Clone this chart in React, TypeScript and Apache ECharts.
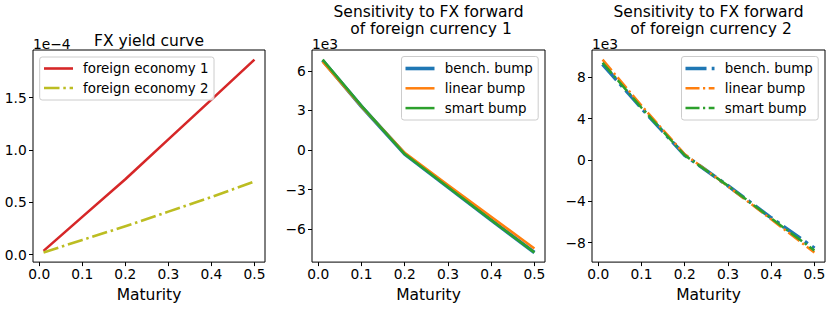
import React, { useEffect, useRef } from "react";
import * as echarts from "echarts";

// Maturities (years)
const maturities = [0.01, 0.1, 0.2, 0.3, 0.4, 0.5];

// Panel 1: FX yield curve, values in units of 1e-4
const foreignEconomy1 = [0.035, 0.36, 0.72, 1.1, 1.48, 1.862];
const foreignEconomy2 = [0.02, 0.14, 0.27, 0.41, 0.55, 0.697];

// Panel 2: sensitivity, currency 1, values in units of 1e3
const bench1 = [6.8, 3.3, -0.3, -2.8, -5.3, -7.75];
const linear1 = [6.7, 3.3, -0.2, -2.65, -5.05, -7.45];
const smart1 = [6.85, 3.35, -0.3, -2.8, -5.3, -7.75];

// Panel 3: sensitivity, currency 2, values in units of 1e3
const bench2 = [9.25, 5.0, 0.45, -2.5, -5.6, -8.55];
const linear2 = [9.7, 5.25, 0.55, -2.55, -5.75, -8.95];
const smart2 = [9.4, 5.05, 0.45, -2.5, -5.65, -8.75];

// Tick values
const xTicks = [0, 0.1, 0.2, 0.3, 0.4, 0.5];
const yTicks1 = [0, 0.5, 1.0, 1.5];
const yTicks2 = [-6, -3, 0, 3, 6];
const yTicks3 = [-8, -4, 0, 4, 8];

const titles = [
  ["FX yield curve"],
  ["Sensitivity to FX forward", "of foreign currency 1"],
  ["Sensitivity to FX forward", "of foreign currency 2"],
];
const offsetTexts = ["1e\u22124", "1e3", "1e3"];
const legendNames1 = ["foreign economy 1", "foreign economy 2"];
const legendNames2 = ["bench. bump", "linear bump", "smart bump"];

const FONT = "DejaVu Sans";
const C_BLUE = "#1f77b4";
const C_ORANGE = "#ff7f0e";
const C_GREEN = "#2ca02c";
const C_RED = "#d62728";
const C_OLIVE = "#bcbd22";

const pair = (ys: number[]) => maturities.map((x, i) => [x, ys[i]]);

function padExtent(arrs: number[][]) {
  const all = arrs.flat();
  const mn = Math.min(...all);
  const mx = Math.max(...all);
  const p = (mx - mn) * 0.05;
  return [mn - p, mx + p];
}

const minus = (s: string) => s.replace("-", "\u2212");

export default function App() {
  const ref = useRef<HTMLDivElement>(null);
  useEffect(() => {
    if (!ref.current) return;
    const chart = echarts.init(ref.current, undefined, { renderer: "svg" });

    const grids = [
      { left: 33, top: 50, width: 232, height: 217 },
      { left: 312, top: 50, width: 233, height: 217 },
      { left: 592, top: 50, width: 233, height: 217 },
    ];
    const xExt = padExtent([maturities]);
    const yExts = [
      padExtent([foreignEconomy1, foreignEconomy2]),
      padExtent([bench1, linear1, smart1]),
      padExtent([bench2, linear2, smart2]),
    ];
    const yTicksAll = [yTicks1, yTicks2, yTicks3];
    const yFmt = [
      (v: number) => v.toFixed(1),
      (v: number) => minus(String(Math.round(v))),
      (v: number) => minus(String(Math.round(v))),
    ];

    const xAxis = grids.map((_, i) => ({
      type: "value",
      gridIndex: i,
      position: "bottom",
      min: xExt[0],
      max: xExt[1],
      splitLine: { show: false },
      axisLine: { show: false, onZero: false },
      axisTick: {
        show: true,
        length: 4,
        lineStyle: { color: "#000", width: 1 },
        customValues: xTicks,
      },
      axisLabel: {
        customValues: xTicks,
        formatter: (v: number) => v.toFixed(1),
        fontFamily: FONT,
        fontSize: 13.8,
        color: "#000",
        margin: 5,
        lineHeight: 14,
      },
      name: "Maturity",
      nameLocation: "middle",
      nameGap: 28.5,
      nameTextStyle: {
        fontFamily: FONT,
        fontSize: 15.5,
        color: "#000",
        verticalAlign: "middle",
        lineHeight: 18,
      },
    }));

    const yAxis = grids.map((_, i) => ({
      type: "value",
      gridIndex: i,
      position: "left",
      min: yExts[i][0],
      max: yExts[i][1],
      splitLine: { show: false },
      axisLine: { show: false, onZero: false },
      axisTick: {
        show: true,
        length: 4,
        lineStyle: { color: "#000", width: 1 },
        customValues: yTicksAll[i],
      },
      axisLabel: {
        customValues: yTicksAll[i],
        formatter: yFmt[i],
        fontFamily: FONT,
        fontSize: 13.8,
        color: "#000",
        margin: 6.2,
      },
    }));

    const dashThin = [14, 3.5, 2.2, 3.5];
    const dashThick = [21, 5.2, 3.5, 5.2];
    const dashOlive = [15.5, 3.8, 2.5, 3.8];

    const mk = (
      name: string,
      data: number[],
      idx: number,
      color: string,
      width: number,
      type: any
    ) => ({
      type: "line",
      name,
      xAxisIndex: idx,
      yAxisIndex: idx,
      data: pair(data),
      showSymbol: false,
      symbol: "none",
      lineStyle: { color, width, type, cap: "butt", join: "round" },
      itemStyle: { color },
      emphasis: { disabled: true },
      silent: true,
      z: 2,
    });

    const series = [
      mk(legendNames1[0], foreignEconomy1, 0, C_RED, 2.6, "solid"),
      mk(legendNames1[1], foreignEconomy2, 0, C_OLIVE, 2.6, dashOlive),
      mk(legendNames2[0], bench1, 1, C_BLUE, 3.6, "solid"),
      mk(legendNames2[1], linear1, 1, C_ORANGE, 2.5, "solid"),
      mk(legendNames2[2], smart1, 1, C_GREEN, 2.5, "solid"),
      mk(legendNames2[0], bench2, 2, C_BLUE, 3.6, dashThick),
      mk(legendNames2[1], linear2, 2, C_ORANGE, 2.5, dashThin),
      mk(legendNames2[2], smart2, 2, C_GREEN, 2.5, dashThin),
    ];

    // graphic: titles, offset texts, legends
    const graphic: any[] = [];
    grids.forEach((g, i) => {
      const cx = g.left + g.width / 2;
      const t = titles[i];
      const titleStyle = (text: string) => ({
        text,
        font: `15.5px "${FONT}"`,
        fill: "#000",
        textAlign: "center",
        textVerticalAlign: "middle",
      });
      if (t.length === 1) {
        graphic.push({ type: "text", x: cx, y: 41.3, style: titleStyle(t[0]) });
      } else {
        graphic.push({ type: "text", x: cx, y: 11.8, style: titleStyle(t[0]) });
        graphic.push({ type: "text", x: cx + 2.5, y: 29.2, style: titleStyle(t[1]) });
      }
      graphic.push({
        type: "text",
        x: g.left,
        y: 44,
        style: {
          text: offsetTexts[i],
          font: `13.8px "${FONT}"`,
          fill: "#000",
          textAlign: "left",
          textVerticalAlign: "middle",
        },
      });
    });

    const legendBox = (
      x: number,
      y: number,
      w: number,
      h: number,
      rows: { name: string; color: string; width: number; dash: any; y: number }[],
      hx: number,
      tx: number
    ) => {
      graphic.push({
        type: "rect",
        z: 100,
        shape: { x, y, width: w, height: h, r: 2.5 },
        style: { fill: "rgba(255,255,255,0.8)", stroke: "#cccccc", lineWidth: 1 },
      });
      rows.forEach((r) => {
        graphic.push({
          type: "line",
          z: 101,
          shape: { x1: hx, y1: r.y, x2: hx + 29, y2: r.y },
          style: {
            stroke: r.color,
            lineWidth: r.width,
            lineDash: r.dash,
            lineCap: "butt",
          },
        });
        graphic.push({
          type: "text",
          z: 101,
          x: tx,
          y: r.y,
          style: {
            text: r.name,
            font: `13.4px "${FONT}"`,
            fill: "#000",
            textAlign: "left",
            textVerticalAlign: "middle",
          },
        });
      });
    };

    legendBox(
      39.7,
      57,
      174.3,
      43,
      [
        { name: legendNames1[0], color: C_RED, width: 2.6, dash: null, y: 68.5 },
        { name: legendNames1[1], color: C_OLIVE, width: 2.6, dash: dashOlive, y: 88 },
      ],
      44,
      83
    );
    legendBox(
      401.5,
      56.5,
      136.7,
      63.5,
      [
        { name: legendNames2[0], color: C_BLUE, width: 3.6, dash: null, y: 68.5 },
        { name: legendNames2[1], color: C_ORANGE, width: 2.5, dash: null, y: 88.3 },
        { name: legendNames2[2], color: C_GREEN, width: 2.5, dash: null, y: 108.1 },
      ],
      405.5,
      444.7
    );
    legendBox(
      681.5,
      56.5,
      136.7,
      63.5,
      [
        { name: legendNames2[0], color: C_BLUE, width: 3.6, dash: dashThick, y: 68.5 },
        { name: legendNames2[1], color: C_ORANGE, width: 2.5, dash: dashThin, y: 88.3 },
        { name: legendNames2[2], color: C_GREEN, width: 2.5, dash: dashThin, y: 108.1 },
      ],
      685.5,
      724.7
    );

    chart.setOption({
      animation: false,
      backgroundColor: "#fff",
      textStyle: { fontFamily: FONT },
      grid: grids.map((g) => ({
        ...g,
        show: true,
        borderColor: "#000",
        borderWidth: 1,
        backgroundColor: "#fff",
        containLabel: false,
      })),
      xAxis,
      yAxis,
      series,
      graphic,
    });
    return () => chart.dispose();
  }, []);

  return (
    <div
      ref={ref}
      style={{ position: "fixed", left: 0, top: 0, width: 831, height: 309, background: "#fff" }}
    />
  );
}
